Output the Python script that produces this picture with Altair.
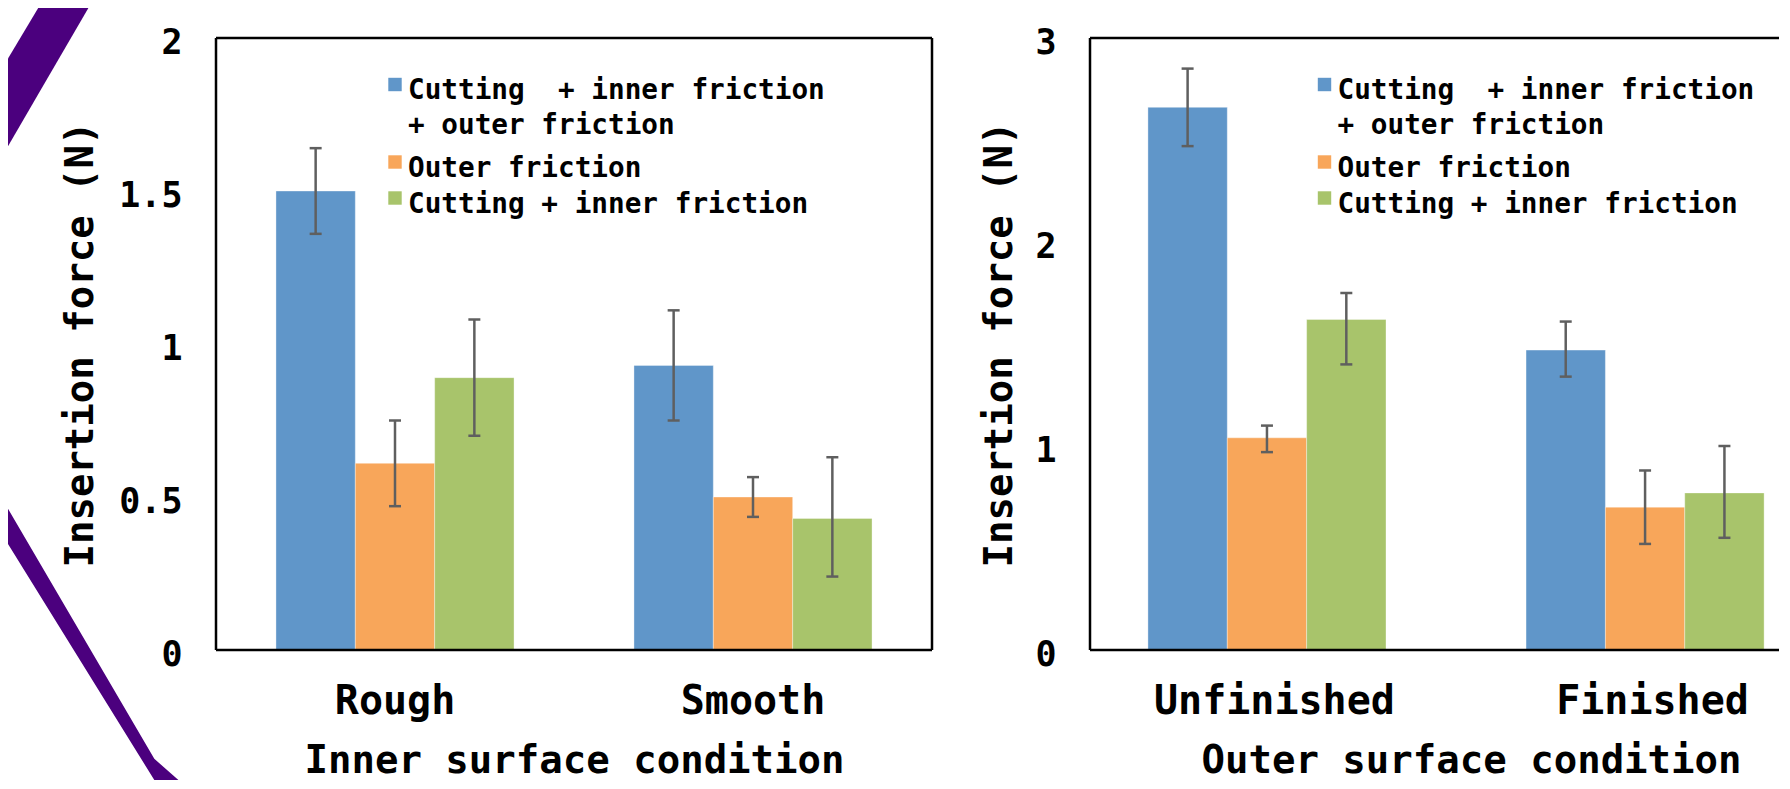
import altair as alt
import pandas as pd

# ---------------- data ----------------
series = [
    "Cutting + inner friction + outer friction",
    "Outer friction",
    "Cutting + inner friction",
]
colors = ["#6096C9", "#F8A65A", "#A8C46B"]

inner_cats = ["Rough", "Smooth"]
inner_mean = [[1.50, 0.93], [0.61, 0.50], [0.89, 0.43]]
inner_lo = [[1.36, 0.75], [0.47, 0.435], [0.70, 0.24]]
inner_hi = [[1.64, 1.11], [0.75, 0.565], [1.08, 0.63]]

outer_cats = ["Unfinished", "Finished"]
outer_mean = [[2.66, 1.47], [1.04, 0.70], [1.62, 0.77]]
outer_lo = [[2.47, 1.34], [0.97, 0.52], [1.40, 0.55]]
outer_hi = [[2.85, 1.61], [1.10, 0.88], [1.75, 1.00]]

inner_ticks = [0, 0.5, 1, 1.5, 2]
outer_ticks = [0, 1, 2, 3]

legend_lines = [
    ["Cutting\u00a0 + inner friction", "+ outer friction"],
    ["Outer friction"],
    ["Cutting + inner friction"],
]

# decorative slide stripes (left margin of the slide)
stripe_id = ["a", "a", "a", "b", "b", "b"]
stripe_x = [-208, -177.8, -127.6, -208, -61.7, -37.6]
stripe_top = [20.6, -30, -30, 470.7, 720.8, 742]
stripe_bot = [108.2, 56.3, -30, 506, 742, 742]

FONT = "DejaVu Sans Mono"
ERR = "#5f5f5f"
H = 612


def make_df(cats, mean, lo, hi):
    rows = []
    for si, s in enumerate(series):
        for ci, c in enumerate(cats):
            rows.append({"cat": c, "series": s, "mean": mean[si][ci],
                         "lo": lo[si][ci], "hi": hi[si][ci]})
    return pd.DataFrame(rows)


def one(val):
    return pd.DataFrame({"t": [val]})


def panel(cats, mean, lo, hi, ymax, ticks, width, pad_in, pad_out, align, xtitle,
          ytitle_pad, title_x=None, leg_x=179, stripes=False, right_edge=True):
    df = make_df(cats, mean, lo, hi)
    xaxis_kw = dict(title=xtitle, labelAngle=0, labelFontSize=40, titleFontSize=39,
                    labelPadding=31, titlePadding=20, ticks=False, tickSize=0,
                    domain=False, labelLimit=0)
    if title_x is not None:
        xaxis_kw["titleX"] = title_x
    x_enc = alt.X("cat:N", sort=cats,
                  scale=alt.Scale(domain=cats, paddingInner=pad_in, paddingOuter=pad_out,
                                  align=align),
                  axis=alt.Axis(**xaxis_kw))
    xo_enc = alt.XOffset("series:N", sort=series,
                         scale=alt.Scale(domain=series, paddingInner=0, paddingOuter=0))
    yaxis = alt.Axis(title="Insertion force (N)", values=ticks, format="~g",
                     labelFontSize=35, titleFontSize=39, labelPadding=34, labelOffset=4,
                     titlePadding=ytitle_pad, grid=False, ticks=False, tickSize=0,
                     domain=False)
    yscale = alt.Scale(domain=[0, ymax], nice=False, zero=True)

    bars = alt.Chart(df).mark_bar(stroke="white", strokeWidth=0.6, strokeOpacity=0.6).encode(
        x=x_enc, xOffset=xo_enc,
        y=alt.Y("mean:Q", scale=yscale, axis=yaxis),
        color=alt.Color("series:N", scale=alt.Scale(domain=series, range=colors), legend=None),
    )
    err = alt.Chart(df).mark_rule(color=ERR, strokeWidth=2.5).encode(
        x=x_enc, xOffset=xo_enc,
        y=alt.Y("lo:Q", scale=yscale, axis=yaxis), y2="hi:Q",
    )
    cap_lo = alt.Chart(df).mark_tick(color=ERR, thickness=2.5, size=12, opacity=1).encode(
        x=x_enc, xOffset=xo_enc, y=alt.Y("lo:Q", scale=yscale, axis=yaxis))
    cap_hi = alt.Chart(df).mark_tick(color=ERR, thickness=2.5, size=12, opacity=1).encode(
        x=x_enc, xOffset=xo_enc, y=alt.Y("hi:Q", scale=yscale, axis=yaxis))

    # plot frame (top, left, bottom; right side only when it lies inside the page)
    frame = [
        alt.Chart(one(0)).mark_rule(color="black", strokeWidth=2.5).encode(
            x=alt.value(0), x2=alt.value(width), y=alt.value(0)),
        alt.Chart(one(0)).mark_rule(color="black", strokeWidth=2.5).encode(
            x=alt.value(0), x2=alt.value(width), y=alt.value(H)),
        alt.Chart(one(0)).mark_rule(color="black", strokeWidth=2.5).encode(
            x=alt.value(0), y=alt.value(0), y2=alt.value(H)),
    ]
    if right_edge:
        frame.append(alt.Chart(one(0)).mark_rule(color="black", strokeWidth=2.5).encode(
            x=alt.value(width), y=alt.value(0), y2=alt.value(H)))

    # manual legend
    leg = []
    sq_y = [46.5, 124, 160]
    txt_y = [[60.5, 96], [139], [175]]
    for i, lines in enumerate(legend_lines):
        leg.append(alt.Chart(one(series[i])).mark_square(
            size=180, opacity=1, color=colors[i]).encode(
            x=alt.value(leg_x), y=alt.value(sq_y[i])))
        for j, line in enumerate(lines):
            leg.append(alt.Chart(one(line)).mark_text(
                align="left", baseline="alphabetic", font=FONT, fontWeight="bold",
                fontSize=27.7, color="black").encode(
                text="t:N", x=alt.value(leg_x + 13), y=alt.value(txt_y[i][j])))

    inner = alt.layer(bars, err, cap_lo, cap_hi, *frame, *leg)
    if stripes:
        sdf = pd.DataFrame({"stripe": stripe_id, "sx": stripe_x,
                            "sy": stripe_top, "sy2": stripe_bot})
        deco = alt.Chart(sdf).mark_area(color="#4B007E", opacity=1).encode(
            x=alt.X("sx:Q", scale=None, axis=None),
            y=alt.Y("sy:Q", scale=None, axis=None),
            y2="sy2:Q",
            detail="stripe:N",
        )
        inner = alt.layer(deco, inner).resolve_scale(x="independent", y="independent")
    return inner.properties(width=width, height=H,
                            view=alt.ViewBackground(stroke="transparent", strokeWidth=0))


left = panel(inner_cats, inner_mean, inner_lo, inner_hi, 2, inner_ticks, 716,
             0.335, 0.1675, 0.5, "Inner surface condition", 18, leg_x=179, stripes=True)
right = panel(outer_cats, outer_mean, outer_lo, outer_hi, 3, outer_ticks, 689,
              0.331, 0.0766, 1.0, "Outer surface condition", 15, title_x=381,
              leg_x=234.5, right_edge=False)

chart = alt.hconcat(left, right, spacing=158, bounds="flush").properties(
    padding=0, background="white"
).configure_view(
    stroke="transparent", strokeWidth=0
).configure_axis(
    labelFont=FONT, titleFont=FONT, labelFontWeight="bold", titleFontWeight="bold",
    labelColor="black", titleColor="black"
)

chart.save("out.html", embed_options={"renderer": "svg", "actions": False})
